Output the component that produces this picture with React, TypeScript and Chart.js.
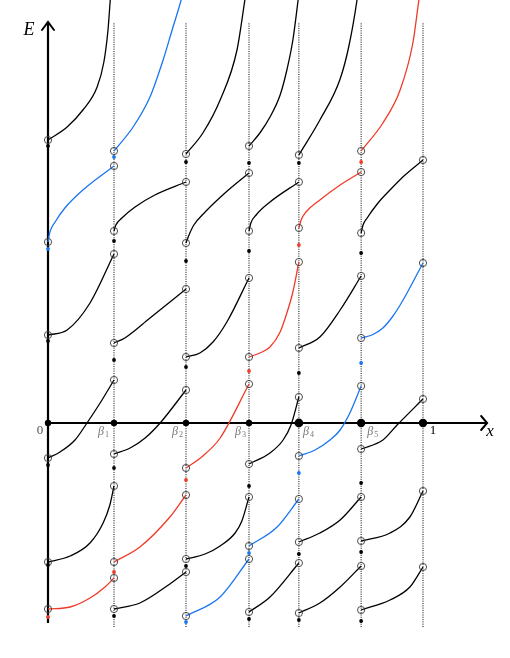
import React, { useEffect, useRef } from 'react';
import { Chart, registerables } from 'chart.js';
Chart.register(...registerables);

type P = [number, number];

// x positions of the special points 0, β1..β5, 1
const betas = [0, 0.176, 0.368, 0.536, 0.669, 0.835, 1];
const betaLabels = ['0', 'β1', 'β2', 'β3', 'β4', 'β5', '1'];

// Curves per interval [β_{i}, β_{i+1}] as [x, E] samples
const band1: P[][] = [
  [[0, 2.83], [0.051, 2.96], [0.093, 3.13], [0.131, 3.36], [0.149, 3.61], [0.16, 3.93], [0.165, 4.18], [0.168, 4.33]],
  [[0, 1.81], [0.005, 1.91], [0.019, 2.01], [0.045, 2.15], [0.093, 2.33], [0.176, 2.57]],
  [[0, 0.88], [0.051, 0.93], [0.112, 1.2], [0.176, 1.69]],
  [[0, -0.35], [0.032, -0.29], [0.072, -0.17], [0.104, 0], [0.139, 0.2], [0.176, 0.43]],
  [[0, -1.39], [0.059, -1.33], [0.112, -1.2], [0.147, -1.0], [0.165, -0.82], [0.176, -0.63]],
  [[0, -1.86], [0.059, -1.84], [0.112, -1.75], [0.152, -1.64], [0.176, -1.55]],
];
const colors1 = ['k', 'b', 'k', 'k', 'k', 'r'];

const band2: P[][] = [
  [[0.176, 2.72], [0.227, 2.96], [0.272, 3.26], [0.307, 3.63], [0.331, 3.93], [0.355, 4.23], [0.365, 4.38]],
  [[0.176, 1.92], [0.181, 1.98], [0.197, 2.05], [0.232, 2.16], [0.285, 2.28], [0.368, 2.41]],
  [[0.176, 0.8], [0.205, 0.85], [0.272, 1.05], [0.368, 1.34]],
  [[0.176, -0.31], [0.219, -0.25], [0.259, -0.15], [0.299, 0], [0.368, 0.33]],
  [[0.176, -1.39], [0.245, -1.24], [0.325, -0.94], [0.368, -0.72]],
  [[0.176, -1.86], [0.245, -1.8], [0.325, -1.61], [0.368, -1.49]],
];
const colors2 = ['b', 'k', 'k', 'k', 'r', 'k'];

const band3: P[][] = [
  [[0.368, 2.69], [0.413, 2.9], [0.459, 3.23], [0.504, 3.73], [0.525, 4.23], [0.531, 4.38]],
  [[0.368, 1.8], [0.376, 1.88], [0.389, 1.98], [0.419, 2.11], [0.472, 2.3], [0.536, 2.5]],
  [[0.368, 0.66], [0.405, 0.7], [0.44, 0.81], [0.477, 1.01], [0.536, 1.45]],
  [[0.368, -0.45], [0.413, -0.33], [0.459, -0.15], [0.536, 0.39]],
  [[0.368, -1.36], [0.419, -1.31], [0.459, -1.23], [0.499, -1.1], [0.517, -0.98], [0.536, -0.74]],
  [[0.368, -1.93], [0.459, -1.74], [0.536, -1.36]],
];
const colors3 = ['k', 'k', 'k', 'r', 'k', 'b'];

const band4: P[][] = [
  [[0.536, 2.77], [0.565, 2.9], [0.592, 3.06], [0.619, 3.28], [0.637, 3.53], [0.653, 3.83], [0.667, 4.23], [0.672, 4.38]],
  [[0.536, 1.92], [0.541, 2.0], [0.555, 2.08], [0.592, 2.21], [0.669, 2.41]],
  [[0.536, 0.66], [0.565, 0.7], [0.592, 0.76], [0.619, 0.91], [0.637, 1.1], [0.653, 1.31], [0.669, 1.61]],
  [[0.536, -0.41], [0.592, -0.3], [0.627, -0.17], [0.648, -0.02], [0.669, 0.26]],
  [[0.536, -1.23], [0.611, -1.04], [0.669, -0.76]],
  [[0.536, -1.89], [0.592, -1.74], [0.669, -1.4]],
];
const colors4 = ['k', 'k', 'r', 'k', 'b', 'k'];

const band5: P[][] = [
  [[0.669, 2.68], [0.725, 3.03], [0.779, 3.44], [0.803, 3.78], [0.824, 4.23], [0.829, 4.38]],
  [[0.669, 1.95], [0.675, 2.03], [0.688, 2.11], [0.725, 2.23], [0.779, 2.38], [0.835, 2.51]],
  [[0.669, 0.75], [0.725, 0.86], [0.779, 1.13], [0.835, 1.47]],
  [[0.669, -0.33], [0.712, -0.27], [0.752, -0.17], [0.779, -0.07], [0.805, 0.1], [0.835, 0.37]],
  [[0.669, -1.19], [0.725, -1.1], [0.779, -0.97], [0.835, -0.74]],
  [[0.669, -1.9], [0.725, -1.8], [0.779, -1.64], [0.835, -1.43]],
];
const colors5 = ['k', 'r', 'k', 'b', 'k', 'k'];

const band6: P[][] = [
  [[0.835, 2.72], [0.893, 3.0], [0.939, 3.33], [0.973, 3.8], [0.989, 4.23], [0.995, 4.38]],
  [[0.835, 1.9], [0.84, 1.98], [0.851, 2.05], [0.88, 2.2], [0.912, 2.33], [0.952, 2.48], [1, 2.63]],
  [[0.835, 0.85], [0.864, 0.88], [0.893, 0.95], [0.92, 1.07], [0.947, 1.23], [1, 1.6]],
  [[0.835, -0.26], [0.893, -0.17], [0.931, -0.02], [1, 0.24]],
  [[0.835, -1.18], [0.912, -1.1], [0.965, -0.94], [1, -0.68]],
  [[0.835, -1.87], [0.912, -1.77], [0.965, -1.64], [1, -1.44]],
];
const colors6 = ['r', 'k', 'b', 'k', 'k', 'k'];

// Values (E) of the small filled dots on each vertical line x = 0, β1..β5
const dotsAt0 = [2.77, 1.74, 0.82, -0.42, -1.42, -1.94];
const dotsAtB1 = [2.66, 1.82, 0.63, -0.45, -1.49, -1.93];
const dotsAtB2 = [2.61, 1.62, 0.56, -0.57, -1.43, -1.99];
const dotsAtB3 = [2.6, 1.72, 0.52, -0.63, -1.3, -1.96];
const dotsAtB4 = [2.6, 1.78, 0.5, -0.5, -1.31, -1.97];
const dotsAtB5 = [2.61, 1.7, 0.6, -0.6, -1.29, -1.98];

const bands = [band1, band2, band3, band4, band5, band6];
const bandColors = [colors1, colors2, colors3, colors4, colors5, colors6];
const dotRows = [dotsAt0, dotsAtB1, dotsAtB2, dotsAtB3, dotsAtB4, dotsAtB5];

const COLOR: Record<string, string> = { k: '#000000', r: 'rgb(240,58,40)', b: 'rgb(25,118,240)' };

const X_MIN = -0.128, X_MAX = 1.232, Y_MIN = -2.35, Y_MAX = 4.23;

export default function App() {
  const ref = useRef<HTMLCanvasElement>(null);
  useEffect(() => {
    if (!ref.current) return;
    const datasets: any[] = [];
    betas.slice(1).forEach((b) => {
      datasets.push({
        data: [{ x: b, y: -2.04 }, { x: b, y: 4.01 }],
        borderColor: '#000', borderWidth: 1, borderDash: [1, 1.3], pointRadius: 0, order: 10,
      });
    });
    datasets.push({ data: [{ x: 0, y: -2.0 }, { x: 0, y: 4.01 }], borderColor: '#000', borderWidth: 2.2, pointRadius: 0, order: 9 });
    datasets.push({ data: [{ x: 0, y: 0 }, { x: 1.171, y: 0 }], borderColor: '#000', borderWidth: 2.2, pointRadius: 0, order: 9 });
    datasets.push({ data: [{ x: -0.016, y: 3.93 }, { x: 0, y: 4.01 }, { x: 0.016, y: 3.93 }], borderColor: '#000', borderWidth: 2, pointRadius: 0, order: 9, borderCapStyle: 'round' });
    datasets.push({ data: [{ x: 1.155, y: 0.07 }, { x: 1.171, y: 0 }, { x: 1.155, y: -0.07 }], borderColor: '#000', borderWidth: 2, pointRadius: 0, order: 9, borderCapStyle: 'round' });

    const circles: { x: number; y: number }[] = [];
    bands.forEach((band, bi) => {
      band.forEach((curve, ci) => {
        datasets.push({
          data: curve.map(([x, y]) => ({ x, y })),
          borderColor: COLOR[bandColors[bi][ci]], borderWidth: 1.3, pointRadius: 0,
          cubicInterpolationMode: 'monotone', order: 5,
        });
        const first = curve[0];
        const last = curve[curve.length - 1];
        circles.push({ x: first[0], y: first[1] });
        if (last[1] < Y_MAX) circles.push({ x: last[0], y: last[1] });
      });
    });
    datasets.push({
      data: circles, showLine: false, pointRadius: 3.6, pointBorderColor: '#3a3a3a',
      pointBorderWidth: 0.9, pointBackgroundColor: 'rgba(255,255,255,0)', order: 3,
    });
    dotRows.forEach((row, i) => {
      datasets.push({
        data: row.map((y) => ({ x: betas[i], y })), showLine: false, pointRadius: 1.9,
        pointBorderWidth: 0, pointBackgroundColor: bandColors[i].map((c) => COLOR[c]), order: 2,
      });
    });
    datasets.push({
      data: betas.map((b) => ({ x: b, y: 0 })), showLine: false,
      pointRadius: [3.2, 3.2, 3.2, 3.2, 4.4, 4.2, 4.2], pointBorderWidth: 0,
      pointBackgroundColor: '#000', order: 1,
    });

    const labelPlugin = {
      id: 'labels',
      afterDraw(chart: any) {
        const { ctx } = chart;
        const xs = chart.scales.x, ys = chart.scales.y;
        const y0 = ys.getPixelForValue(0);
        ctx.save();
        ctx.textBaseline = 'middle';
        ctx.textAlign = 'center';
        ctx.fillStyle = '#000';
        ctx.font = 'italic 18px "Liberation Serif"';
        ctx.fillText('E', xs.getPixelForValue(0) - 19, ys.getPixelForValue(3.93));
        ctx.font = 'italic 17px "Liberation Serif"';
        ctx.fillText('x', xs.getPixelForValue(1.171) + 3, y0 + 9);
        const offsets = [-8, -11, -9, -9, 9, 11, 10];
        betaLabels.forEach((lab, i) => {
          const px = xs.getPixelForValue(betas[i]) + offsets[i];
          if (lab.startsWith('β')) {
            ctx.fillStyle = '#777';
            ctx.font = 'italic 12px "Liberation Serif"';
            ctx.textAlign = 'center';
            ctx.fillText('β', px - 2, y0 + 9);
            ctx.font = '8px "Liberation Serif"';
            ctx.fillText(lab.slice(1), px + 4, y0 + 12);
          } else {
            ctx.fillStyle = lab === '1' ? '#000' : '#555';
            ctx.font = '13px "Liberation Serif"';
            ctx.textAlign = 'center';
            ctx.fillText(lab, px, y0 + 8);
          }
        });
        ctx.restore();
      },
    };

    const chart = new Chart(ref.current, {
      type: 'line',
      data: { datasets },
      options: {
        animation: false,
        responsive: false,
        maintainAspectRatio: false,
        events: [],
        layout: { padding: 0, autoPadding: false },
        plugins: { legend: { display: false }, tooltip: { enabled: false } },
        scales: {
          x: { type: 'linear', min: X_MIN, max: X_MAX, display: false },
          y: { type: 'linear', min: Y_MIN, max: Y_MAX, display: false },
        },
      },
      plugins: [labelPlugin],
    });
    return () => chart.destroy();
  }, []);
  return (
    <div style={{ position: 'fixed', left: 0, top: 0, width: 510, height: 658, background: '#fff' }}>
      <canvas ref={ref} width={510} height={658} />
    </div>
  );
}
